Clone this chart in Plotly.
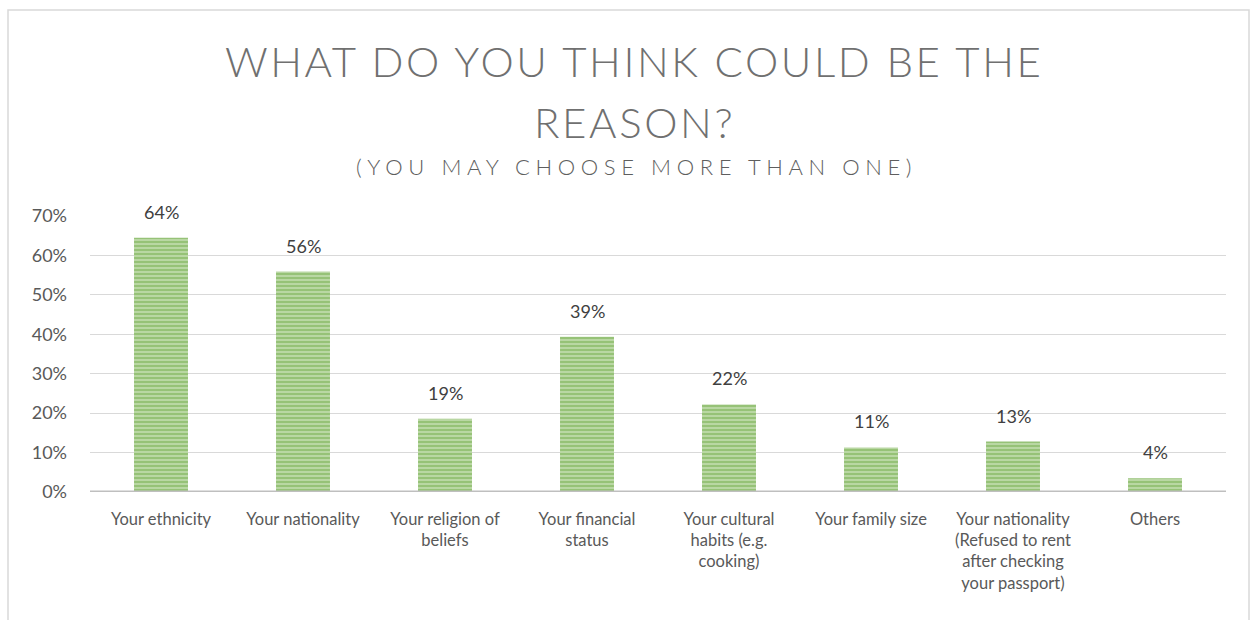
import plotly.graph_objects as go

categories = [
    "Your ethnicity",
    "Your nationality",
    "Your religion of<br>beliefs",
    "Your financial<br>status",
    "Your cultural<br>habits (e.g.<br>cooking)",
    "Your family size",
    "Your nationality<br>(Refused to rent<br>after checking<br>your passport)",
    "Others",
]
values = [0.645, 0.559, 0.186, 0.394, 0.222, 0.113, 0.128, 0.035]
y_ticks = [0, 0.1, 0.2, 0.3, 0.4, 0.5, 0.6, 0.7]
y_ticklabels = ["0%", "10%", "20%", "30%", "40%", "50%", "60%", "70%"]

W, H = 1252, 620
L, R, T, B = 90, 26, 216, 128
pw, ph = W - L - R, H - T - B
FONT = "Lato"

def px(x):
    return (x - L) / pw

def py(y):
    return (H - B - y) / ph

fig = go.Figure()
fig.add_trace(go.Bar(
    x=categories,
    y=values,
    width=0.38,
    marker=dict(
        color="#BEDBA9",
        line=dict(width=0),
        pattern=dict(shape="-", fgcolor="#6AA840", bgcolor="#C2DDAE", size=4, solidity=0.6, fillmode="overlay"),
    ),
    hoverinfo="skip",
))

annotations = []
for c, v in zip(categories, values):
    annotations.append(dict(
        x=c, y=v, xref="x", yref="y", text=f"{round(v*100)}%",
        showarrow=False, yanchor="bottom", yshift=13,
        font=dict(family=FONT, size=18, color="#404040"),
    ))

title_font = dict(family=FONT, size=42, color="#707070", weight=300)
annotations += [
    dict(text='<span style="letter-spacing:2.6px">WHAT DO YOU THINK COULD BE THE</span>',
         xref="paper", yref="paper",
         x=px(634), y=py(61), xanchor="center", yanchor="middle", showarrow=False,
         font=title_font),
    dict(text='<span style="letter-spacing:2.6px">REASON?</span>',
         xref="paper", yref="paper",
         x=px(634), y=py(122), xanchor="center", yanchor="middle", showarrow=False,
         font=title_font),
    dict(text='<span style="letter-spacing:5.6px">(YOU MAY CHOOSE MORE THAN ONE)</span>',
         xref="paper", yref="paper",
         x=px(636), y=py(166), xanchor="center", yanchor="middle", showarrow=False,
         font=dict(family=FONT, size=22, color="#5E5E5E", weight=300)),
]

fig.update_layout(
    width=W, height=H,
    margin=dict(l=L, r=R, t=T, b=B),
    paper_bgcolor="white",
    plot_bgcolor="white",
    showlegend=False,
    font=dict(family=FONT, color="#595959"),
    xaxis=dict(
        showgrid=False,
        showline=False,
        zeroline=False,
        tickfont=dict(family=FONT, size=16.5, color="#595959"),
        ticks="",
        ticklabelstandoff=15,
        fixedrange=True,
    ),
    yaxis=dict(
        range=[0, 0.7],
        tickvals=y_ticks,
        ticktext=y_ticklabels,
        tickfont=dict(family=FONT, size=18, color="#595959"),
        showgrid=True,
        gridcolor="#D9D9D9",
        gridwidth=1,
        zeroline=False,
        showline=False,
        ticks="",
        ticklabelstandoff=22,
        fixedrange=True,
    ),
    shapes=[
        dict(type="rect", xref="paper", yref="paper",
             x0=px(8), x1=px(1249), y0=py(10), y1=py(640),
             line=dict(color="#D9D9D9", width=1.5), fillcolor="rgba(0,0,0,0)", layer="below"),
        dict(type="line", xref="paper", yref="y", x0=0, x1=1, y0=0, y1=0,
             line=dict(color="#BFBFBF", width=3)),
    ],
    annotations=annotations,
)

fig.write_html("out.html")
